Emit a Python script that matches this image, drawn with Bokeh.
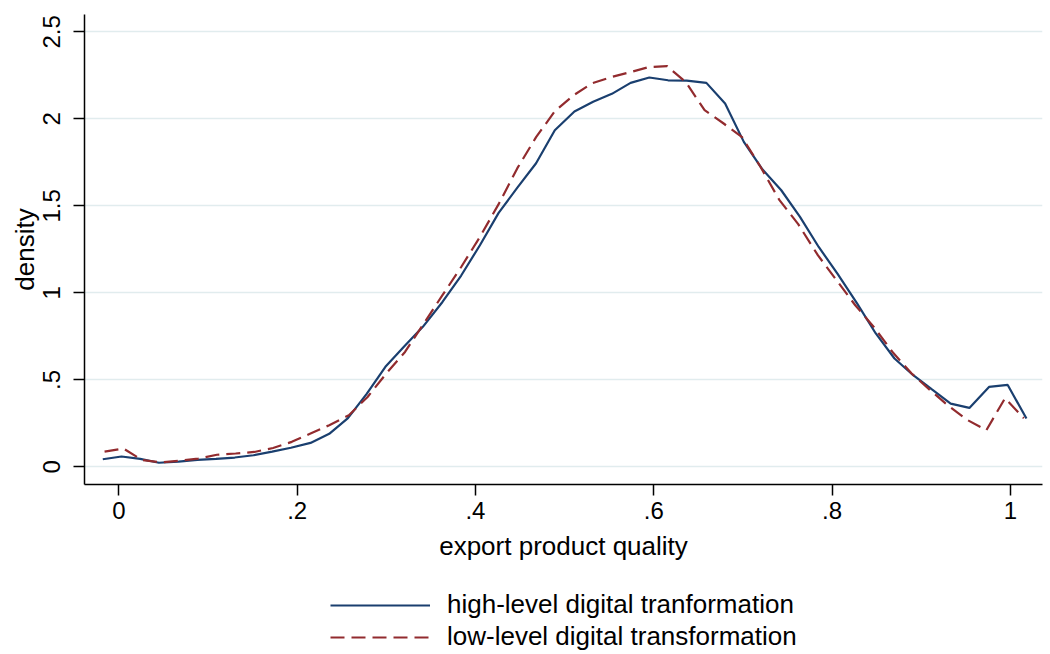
import math
from bokeh.plotting import figure
from bokeh.layouts import column
from bokeh.models import FixedTicker, Legend, LegendItem, Range1d
from bokeh.embed import file_html
from bokeh.resources import INLINE

# ---- data ----
x_high = [-0.018, 0.003, 0.024, 0.045, 0.067, 0.088, 0.109, 0.130, 0.151, 0.172,
          0.193, 0.215, 0.236, 0.257, 0.278, 0.299, 0.320, 0.341, 0.363, 0.384,
          0.405, 0.426, 0.447, 0.468, 0.489, 0.511, 0.532, 0.553, 0.574, 0.595,
          0.616, 0.637, 0.659, 0.680, 0.701, 0.722, 0.743, 0.764, 0.785, 0.806,
          0.828, 0.849, 0.870, 0.891, 0.912, 0.933, 0.954, 0.976, 0.997, 1.018]
y_high = [0.044, 0.060, 0.046, 0.024, 0.030, 0.040, 0.046, 0.054, 0.067, 0.088,
          0.110, 0.138, 0.190, 0.280, 0.420, 0.575, 0.692, 0.805, 0.948, 1.100,
          1.274, 1.460, 1.605, 1.745, 1.935, 2.043, 2.099, 2.144, 2.207, 2.238,
          2.222, 2.220, 2.207, 2.088, 1.868, 1.709, 1.590, 1.437, 1.264, 1.111,
          0.940, 0.767, 0.623, 0.527, 0.445, 0.364, 0.339, 0.460, 0.471, 0.278]

x_low = [-0.016, 0.005, 0.026, 0.047, 0.068, 0.089, 0.110, 0.131, 0.152, 0.173,
         0.194, 0.215, 0.236, 0.258, 0.279, 0.300, 0.321, 0.342, 0.363, 0.384,
         0.405, 0.426, 0.447, 0.468, 0.489, 0.510, 0.531, 0.552, 0.573, 0.594,
         0.615, 0.636, 0.657, 0.678, 0.699, 0.720, 0.741, 0.762, 0.784, 0.805,
         0.826, 0.847, 0.868, 0.889, 0.910, 0.931, 0.952, 0.973, 0.994, 1.015]
y_low = [0.088, 0.106, 0.040, 0.026, 0.036, 0.048, 0.070, 0.077, 0.086, 0.109,
         0.144, 0.192, 0.240, 0.297, 0.402, 0.537, 0.661, 0.824, 0.987, 1.149,
         1.322, 1.510, 1.717, 1.895, 2.044, 2.136, 2.205, 2.240, 2.268, 2.297,
         2.303, 2.211, 2.050, 1.975, 1.895, 1.722, 1.533, 1.395, 1.217, 1.073,
         0.929, 0.803, 0.659, 0.538, 0.441, 0.349, 0.269, 0.211, 0.395, 0.280]

x_ticks = [0, 0.2, 0.4, 0.6, 0.8, 1.0]
x_tick_labels = ["0", ".2", ".4", ".6", ".8", "1"]
y_ticks = [0, 0.5, 1.0, 1.5, 2.0, 2.5]
y_tick_labels = ["0", ".5", "1", "1.5", "2", "2.5"]

label_high = "high-level digital tranformation"
label_low = "low-level digital transformation"
x_title = "export product quality"
y_title = "density"

FONT = "Liberation Sans"
BLUE = "#1a3f6f"
RED = "#922b2e"
LINE_W = 2.2
DASH = "14 7"

p = figure(width=1048, height=574, output_backend="svg", toolbar_location=None,
           x_range=Range1d(-0.0385, 1.036), y_range=Range1d(-0.101, 2.60),
           min_border_left=84, min_border_right=6, min_border_top=14,
           min_border_bottom=90)
p.outline_line_color = None
p.background_fill_color = "white"
p.border_fill_color = "white"

p.line(x_high, y_high, line_color=BLUE, line_width=LINE_W)
p.line(x_low, y_low, line_color=RED, line_width=LINE_W, line_dash=DASH)

for ax in (p.xaxis[0], p.yaxis[0]):
    ax.axis_line_color = "black"
    ax.axis_line_width = 1.5
    ax.major_tick_line_color = "black"
    ax.major_tick_line_width = 1.5
    ax.major_tick_out = 11
    ax.major_tick_in = 0
    ax.minor_tick_line_color = None
    ax.major_label_text_font = FONT
    ax.major_label_text_font_size = "24px"
    ax.major_label_text_color = "black"
    ax.axis_label_text_font = FONT
    ax.axis_label_text_font_size = "26px"
    ax.axis_label_text_font_style = "normal"
    ax.axis_label_text_color = "black"

p.xaxis[0].ticker = FixedTicker(ticks=x_ticks)
p.xaxis[0].major_label_overrides = dict(zip(x_ticks, x_tick_labels))
p.xaxis[0].axis_label = x_title
p.xaxis[0].major_label_standoff = 6
p.xaxis[0].axis_label_standoff = 9

p.yaxis[0].ticker = FixedTicker(ticks=y_ticks)
p.yaxis[0].major_label_overrides = dict(zip(y_ticks, y_tick_labels))
p.yaxis[0].major_label_orientation = "parallel"
p.yaxis[0].axis_label = y_title
p.yaxis[0].major_label_standoff = 13
p.yaxis[0].axis_label_standoff = 1

p.xgrid.grid_line_color = None
p.ygrid.grid_line_color = "#e1ecee"
p.ygrid.grid_line_width = 1.5

# ---- legend panel ----
p2 = figure(width=1048, height=80, output_backend="svg", toolbar_location=None,
            x_axis_type=None, y_axis_type=None,
            x_range=Range1d(0, 1), y_range=Range1d(0, 1),
            min_border_left=0, min_border_right=0, min_border_top=0,
            min_border_bottom=0)
p2.outline_line_color = None
p2.xgrid.grid_line_color = None
p2.ygrid.grid_line_color = None
l_high = p2.line([0, 1], [-5, -5], line_color=BLUE, line_width=LINE_W)
l_low = p2.line([0, 1], [-5, -5], line_color=RED, line_width=LINE_W, line_dash=DASH)

legend = Legend(items=[LegendItem(label=label_high, renderers=[l_high]),
                       LegendItem(label=label_low, renderers=[l_low])],
                location=(246, 2), orientation="vertical")
legend.label_text_font = FONT
legend.label_text_font_size = "26px"
legend.label_text_color = "black"
legend.glyph_width = 100
legend.glyph_height = 30
legend.label_standoff = 17
legend.label_height = 30
legend.spacing = 1
legend.padding = 0
legend.margin = 0
legend.border_line_color = None
legend.background_fill_alpha = 0
p2.add_layout(legend)

open("out.html", "w").write(file_html(column(p, p2, spacing=0), INLINE))
